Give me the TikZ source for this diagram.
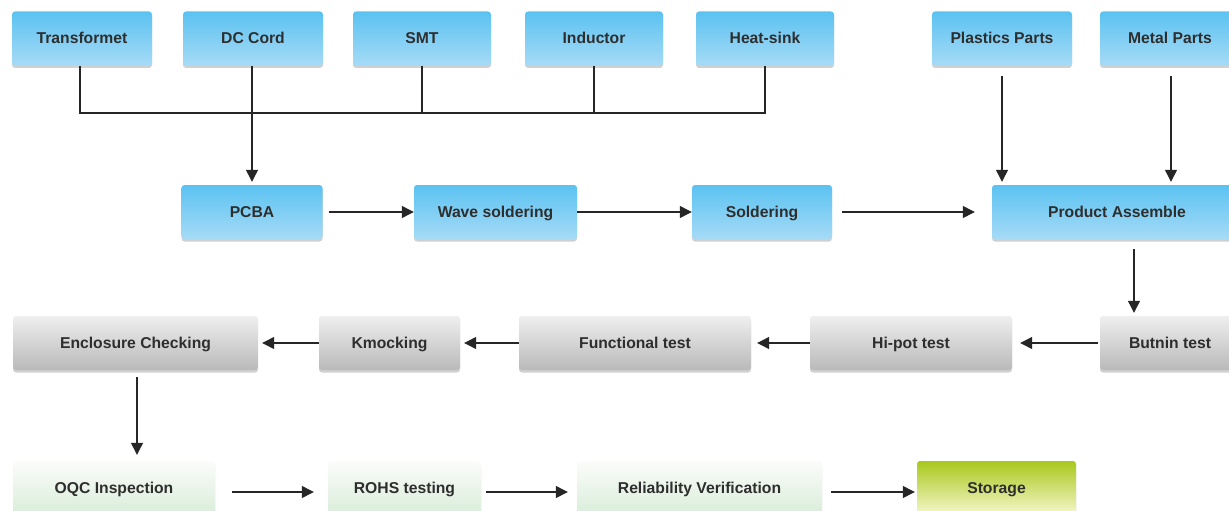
\documentclass[tikz,border=0pt]{standalone}
\usepackage{fontspec}
\setmainfont{Liberation Sans}
\usetikzlibrary{arrows.meta,shadows}
\definecolor{txt}{HTML}{2E2E2E}
\definecolor{bluetop}{HTML}{5BC2F1}
\definecolor{bluebot}{HTML}{A6DBF6}
\definecolor{graytop}{HTML}{EFEFEF}
\definecolor{graybot}{HTML}{B9B9B9}
\definecolor{greentop}{HTML}{FBFCFB}
\definecolor{greenbot}{HTML}{D9EDD9}
\definecolor{stortop}{HTML}{A9C81C}
\definecolor{storbot}{HTML}{F6F7CC}
\tikzset{
  box/.style={rectangle, rounded corners=3pt, minimum height=54pt, inner sep=0pt,
    text height=11pt, text depth=0.5pt,
    font=\fontsize{15.7}{18}\selectfont\bfseries, text=txt,
    drop shadow={shadow xshift=0pt, shadow yshift=-2.5pt, fill=black!30, opacity=0.6}},
  bluebox/.style={box, top color=bluetop, bottom color=bluebot},
  graybox/.style={box, top color=graytop, bottom color=graybot},
  greenbox/.style={box, top color=greentop, bottom color=greenbot},
  storbox/.style={box, top color=stortop, bottom color=storbot},
  conn/.style={line width=1.25pt, draw=black!85},
  arr/.style={conn, -{Triangle[length=12pt,width=12pt]}},
}
\begin{document}
\begin{tikzpicture}[x=1pt,y=-1pt]
\useasboundingbox[fill=white] (0,0) rectangle (1229,511);
% row 1
\node[bluebox, minimum width=140pt] (tr) at (82,38.5) {Transformet};
\node[bluebox, minimum width=140pt] (dc) at (253,38.5) {DC Cord};
\node[bluebox, minimum width=138pt] (smt) at (422,38.5) {SMT};
\node[bluebox, minimum width=138pt] (ind) at (594,38.5) {Inductor};
\node[bluebox, minimum width=138pt] (hs) at (765,38.5) {Heat-sink};
\node[bluebox, minimum width=140pt] (pl) at (1002,38.5) {Plastics Parts};
\node[bluebox, minimum width=140pt] (mp) at (1170,38.5) {Metal Parts};
% row 2
\node[bluebox, minimum width=141pt] (pcba) at (252,212) {PCBA};
\node[bluebox, minimum width=163pt] (wave) at (495.5,212) {Wave soldering};
\node[bluebox, minimum width=140pt] (sold) at (762,212) {Soldering};
\node[bluebox, minimum width=250pt] (pa) at (1117,212) {Product Assemble};
% row 3
\node[graybox, minimum width=245pt] (enc) at (135.5,343) {Enclosure Checking};
\node[graybox, minimum width=141pt] (km) at (389.5,343) {Kmocking};
\node[graybox, minimum width=232pt] (fun) at (635,343) {Functional test};
\node[graybox, minimum width=202pt] (hip) at (911,343) {Hi-pot test};
\node[graybox, minimum width=140pt] (bt) at (1170,343) {Butnin test};
% row 4
\node[greenbox, minimum width=202pt] (oqc) at (114,488) {OQC Inspection};
\node[greenbox, minimum width=153pt] (rohs) at (404.5,488) {ROHS testing};
\node[greenbox, minimum width=245pt] (rel) at (699.5,488) {Reliability Verification};
\node[storbox, minimum width=159pt] (stor) at (996.5,488) {Storage};
% bus
\coordinate (bus) at (0,113);
\draw[conn] ([xshift=-2pt]tr.south) -- ([xshift=-2pt]tr.south |- bus) -- (hs.south |- bus) -- (hs.south);
\draw[conn] (smt.south) -- (smt.south |- bus);
\draw[conn] (ind.south) -- (ind.south |- bus);
\draw[arr, shorten >=3pt] ([xshift=-1pt]dc.south) -- ([xshift=-1pt]dc.south |- pcba.north);
\draw[arr, shorten <=10pt, shorten >=3pt] (pl.south) -- (pl.south |- pa.north);
\draw[arr, shorten <=10pt, shorten >=3pt] ([xshift=1pt]mp.south) -- ([xshift=1pt]mp.south |- pa.north);
% row 2 arrows
\draw[arr, shorten <=6pt] (pcba.east) -- (wave.west);
\draw[arr] (wave.east) -- (sold.west);
\draw[arr, shorten <=10pt, shorten >=17pt] (sold.east) -- (pa.west);
\draw[arr, shorten <=10pt, shorten >=3pt] ([xshift=17pt]pa.south) -- ([xshift=17pt]pa.south |- bt.north);
% row 3 arrows
\draw[arr, shorten <=2pt, shorten >=8pt] (bt.west) -- (hip.east);
\draw[arr, shorten >=6pt] (hip.west) -- (fun.east);
\draw[arr, shorten >=4pt] (fun.west) -- (km.east);
\draw[arr, shorten >=4pt] (km.west) -- (enc.east);
\draw[arr, shorten <=7pt, shorten >=6pt] ([xshift=1.5pt]enc.south) -- ([xshift=1.5pt]enc.south |- oqc.north);
% row 4 arrows
\draw[arr, shorten <=17pt, shorten >=14pt] ([yshift=-4pt]oqc.east) -- ([yshift=-4pt]rohs.west);
\draw[arr, shorten <=5pt, shorten >=9pt] ([yshift=-4pt]rohs.east) -- ([yshift=-4pt]rel.west);
\draw[arr, shorten <=9pt, shorten >=2pt] ([yshift=-4pt]rel.east) -- ([yshift=-4pt]stor.west);
\end{tikzpicture}
\end{document}
